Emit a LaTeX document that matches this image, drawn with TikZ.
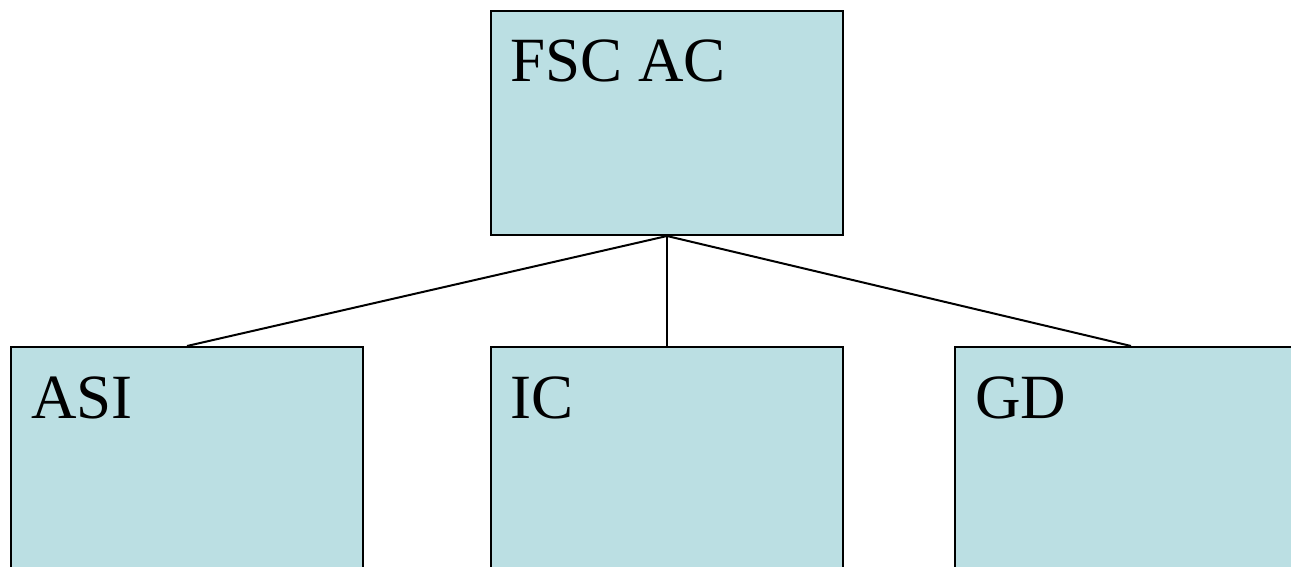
\documentclass[tikz,border=0pt]{standalone}
\usepackage{fontspec}
\setmainfont{Liberation Serif}
\usepackage{tikz}
\definecolor{boxblue}{RGB}{187,223,227}

\begin{document}
\begin{tikzpicture}[x=1pt, y=-1pt, unit/.style={draw, fill=boxblue, line width=2pt, minimum width=352pt, minimum height=224pt, inner sep=0pt, anchor=north west}, lbl/.style={anchor=base west, inner sep=0pt, font=\fontsize{63}{75}\selectfont}, n/.style={line width=2pt}]
            \clip (0,0) rectangle (1291,567);
            % nodes
            \node[unit] (fsc) at (490,10) {};
            \node[unit] (asi) at (10,346) {};
            \node[unit] (ic) at (490,346) {};
            \node[unit] (gd) at (954,346) {};
            \node[lbl] (fsct) at ([shift={(20,72)}]fsc.north west) {FSC AC};
            \node[lbl] (asit) at ([shift={(21,72)}]asi.north west) {ASI};
            \node[lbl] (ict) at ([shift={(20,72)}]ic.north west) {IC};
            \node[lbl] (gdt) at ([shift={(21,72)}]gd.north west) {GD};
            % edges
            \draw [n] (fsc.south) -- (asi.north);
            \draw [n] (fsc.south) -- (ic.north);
            \draw [n] (fsc.south) -- (gd.north);
        \end{tikzpicture}
\end{document}
